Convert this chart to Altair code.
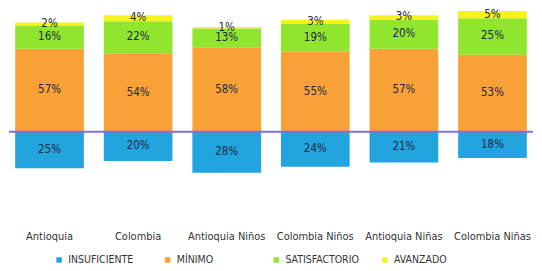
import altair as alt
import pandas as pd

categories = ["Antioquia", "Colombia", "Antioquia Niños", "Colombia Niños", "Antioquia Niñas", "Colombia Niñas"]
levels = ["INSUFICIENTE", "MÍNIMO", "SATISFACTORIO", "AVANZADO"]
insuficiente = [25, 20, 28, 24, 21, 18]
minimo = [57, 54, 58, 55, 57, 53]
satisfactorio = [16, 22, 13, 19, 20, 25]
avanzado = [2, 4, 1, 3, 3, 5]
colors = ["#22A4DF", "#F7A136", "#90E62E", "#F4F41C"]

rows = []
for i, c in enumerate(categories):
    for j, (lvl, vals) in enumerate(zip(levels, [insuficiente, minimo, satisfactorio, avanzado])):
        v = vals[i]
        rows.append({"cat": c, "level": lvl, "ord": j, "value": -v if lvl == "INSUFICIENTE" else v, "pct": v})
df = pd.DataFrame(rows)

font = "DejaVu Sans Condensed"

base = alt.Chart(df).transform_stack(
    stack="value", groupby=["cat"], as_=["v0", "v1"], sort=[alt.SortField("ord")], offset="zero"
).transform_calculate(
    mid="(datum.v0 + datum.v1) / 2", label="datum.pct + '%'"
)

xenc = alt.X("cat:N", sort=categories, title=None,
             scale=alt.Scale(paddingInner=0.225, paddingOuter=0.07),
             axis=alt.Axis(labelAngle=0, domain=False, ticks=False, labelPadding=5,
                           labelFont=font, labelFontSize=11, labelColor="#333333"))
yscale = alt.Scale(domain=[-64.4, 84], nice=False, zero=False)

bars = base.mark_bar().encode(
    x=xenc,
    y=alt.Y("v0:Q", scale=yscale, axis=None),
    y2="v1:Q",
    color=alt.Color("level:N", sort=levels, scale=alt.Scale(domain=levels, range=colors),
                    legend=alt.Legend(title=None, orient="none", legendX=45, legendY=246,
                                      direction="horizontal", symbolType="square", symbolSize=30,
                                      symbolStrokeWidth=0, gridAlign="all", columnPadding=20,
                                      labelFont=font, labelFontSize=10.5, labelColor="#333333")),
)

texts = base.mark_text(font=font, fontSize=11.5, color="#1c2a44").encode(
    x=alt.X("cat:N", sort=categories),
    y=alt.Y("mid:Q", scale=yscale),
    text="label:N",
)

rule = alt.Chart(pd.DataFrame({"y": [0]})).mark_rule(color="#7F6FE6", strokeWidth=2).encode(
    y=alt.Y("y:Q", scale=yscale)
)

chart = alt.layer(bars, texts, rule).properties(
    width=526, height=217, padding=0
).configure_view(stroke=None)

chart.save("out.html", embed_options={"renderer": "svg", "actions": False})
